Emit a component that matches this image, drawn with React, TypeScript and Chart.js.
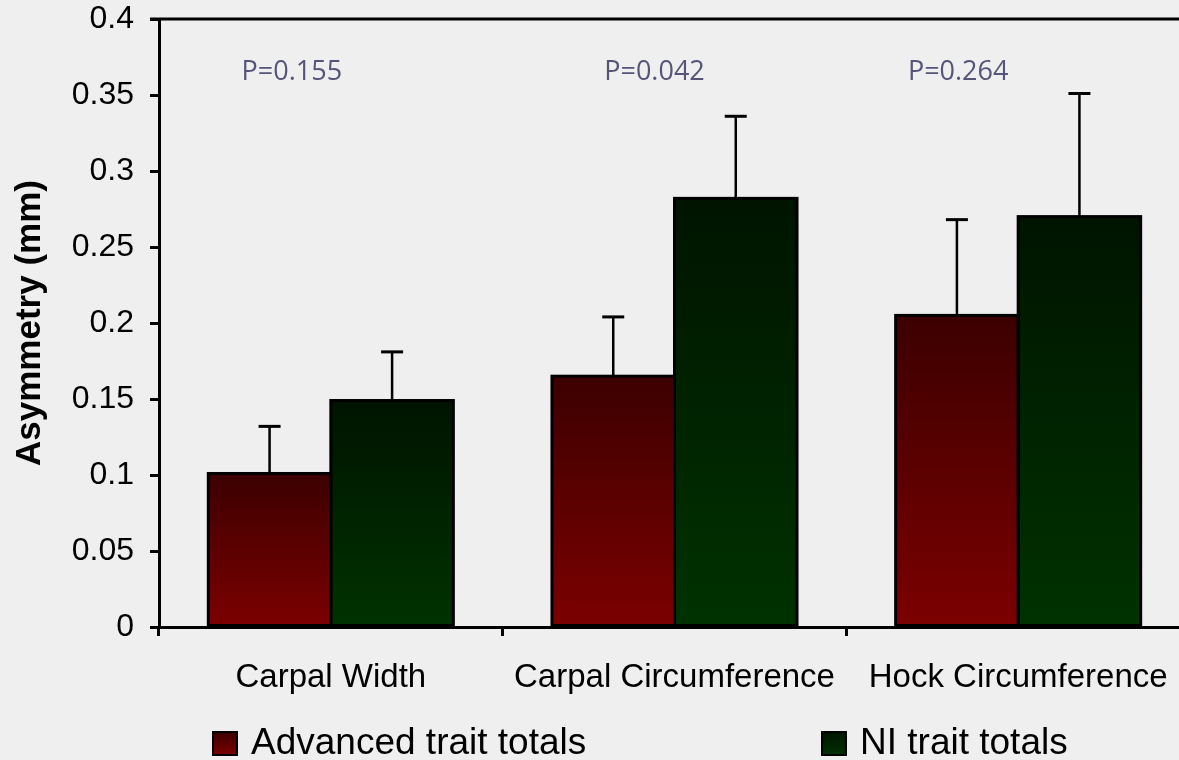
import React, { useEffect, useRef } from "react";
import { Chart, registerables } from "chart.js";

Chart.register(...registerables);

const categories = ["Carpal Width", "Carpal Circumference", "Hock Circumference"];
const seriesNames = ["Advanced trait totals", "NI trait totals"];
const advancedValues = [0.101, 0.165, 0.205];
const advancedErrors = [0.031, 0.039, 0.063];
const niValues = [0.149, 0.282, 0.27];
const niErrors = [0.032, 0.054, 0.081];
const pLabels = ["P=0.155", "P=0.042", "P=0.264"];
const yMin = 0;
const yMax = 0.4;
const yStep = 0.05;

const FONT = "'Liberation Sans', Arial, sans-serif";
const RED = ["#3c0000", "#7c0000"];
const GREEN = ["#001400", "#003200"];
const P_OFFSETS = [-39, -20, -60];

function barGradient(colors: string[]) {
  return (ctx: any) => {
    const chart = ctx.chart;
    if (!chart.chartArea || ctx.raw == null) return colors[1];
    const y = chart.scales.y;
    const top = y.getPixelForValue(ctx.raw);
    const bottom = y.getPixelForValue(0);
    const g = chart.ctx.createLinearGradient(0, top, 0, bottom);
    g.addColorStop(0, colors[0]);
    g.addColorStop(1, colors[1]);
    return g;
  };
}

const barOutlinePlugin = {
  id: "barOutline",
  afterDatasetsDraw(chart: any) {
    const ctx = chart.ctx;
    ctx.save();
    ctx.strokeStyle = "#000";
    ctx.lineWidth = 3;
    [0, 1].forEach((di) => {
      chart.getDatasetMeta(di).data.forEach((bar: any) => {
        const w = bar.width;
        ctx.strokeRect(bar.x - w / 2, bar.y, w, bar.base - bar.y);
      });
    });
    ctx.restore();
  },
};

const errorBarsPlugin = {
  id: "errorBars",
  afterDatasetsDraw(chart: any) {
    const ctx = chart.ctx;
    const y = chart.scales.y;
    const sets = [
      [advancedValues, advancedErrors],
      [niValues, niErrors],
    ];
    sets.forEach(([vals, errs], di) => {
      const meta = chart.getDatasetMeta(di);
      meta.data.forEach((bar: any, i: number) => {
        const top = y.getPixelForValue(vals[i] + errs[i]);
        ctx.save();
        ctx.strokeStyle = "#000";
        ctx.lineWidth = 2.5;
        ctx.beginPath();
        ctx.moveTo(bar.x, bar.y);
        ctx.lineTo(bar.x, top);
        ctx.stroke();
        ctx.lineWidth = 3;
        ctx.beginPath();
        ctx.moveTo(bar.x - 11, top);
        ctx.lineTo(bar.x + 11, top);
        ctx.stroke();
        ctx.restore();
      });
    });
  },
};

const decorPlugin = {
  id: "decor",
  afterDraw(chart: any) {
    const ctx = chart.ctx;
    const area = chart.chartArea;
    const x = chart.scales.x;
    ctx.save();
    ctx.strokeStyle = "#000";
    ctx.lineWidth = 3;
    ctx.beginPath();
    ctx.moveTo(area.left - 9, area.top);
    ctx.lineTo(area.right, area.top);
    ctx.stroke();
    ctx.fillStyle = "#55557a";
    ctx.font = "27px 'Open Sans', sans-serif";
    ctx.textAlign = "center";
    ctx.textBaseline = "middle";
    pLabels.forEach((t, i) => {
      ctx.fillText(t, x.getPixelForValue(i) + P_OFFSETS[i], area.top + 53);
    });
    const legendY = 743;
    const items = [
      { x: 213, name: seriesNames[0], colors: RED },
      { x: 822, name: seriesNames[1], colors: GREEN },
    ];
    items.forEach((it) => {
      const g = ctx.createLinearGradient(0, legendY - 11, 0, legendY + 12);
      g.addColorStop(0, it.colors[0]);
      g.addColorStop(1, it.colors[1]);
      ctx.fillStyle = g;
      ctx.fillRect(it.x, legendY - 11, 24, 23);
      ctx.strokeStyle = "#000";
      ctx.lineWidth = 2;
      ctx.strokeRect(it.x, legendY - 11, 24, 23);
      ctx.fillStyle = "#000";
      ctx.font = `37px ${FONT}`;
      ctx.textAlign = "left";
      ctx.textBaseline = "middle";
      ctx.fillText(it.name, it.x + 38, legendY + 1);
    });
    ctx.restore();
  },
};

export default function App() {
  const ref = useRef<HTMLCanvasElement>(null);
  useEffect(() => {
    if (!ref.current) return;
    const chart = new Chart(ref.current, {
      type: "bar",
      data: {
        labels: categories,
        datasets: [
          {
            label: seriesNames[0],
            data: advancedValues,
            backgroundColor: barGradient(RED),
            borderWidth: 0,
            categoryPercentage: 0.713,
            barPercentage: 1,
          },
          {
            label: seriesNames[1],
            data: niValues,
            backgroundColor: barGradient(GREEN),
            borderWidth: 0,
            categoryPercentage: 0.713,
            barPercentage: 1,
          },
        ],
      },
      options: {
        responsive: false,
        animation: false,
        devicePixelRatio: 1,
        layout: { padding: { top: 19, right: 20, left: 0, bottom: 0 } },
        plugins: { legend: { display: false }, tooltip: { enabled: false } },
        scales: {
          x: {
            offset: true,
            grid: {
              offset: true,
              drawOnChartArea: false,
              drawTicks: true,
              tickLength: 9,
              color: "#000",
              lineWidth: 3,
            },
            border: { display: true, color: "#000", width: 3 },
            ticks: {
              color: "#000",
              font: { family: FONT, size: 33 },
              padding: 22,
              maxRotation: 0,
              autoSkip: false,
            },
            afterFit: (s: any) => {
              s.height = 133;
              s.paddingLeft = 0;
              s.paddingRight = 0;
            },
          },
          y: {
            min: yMin,
            max: yMax,
            ticks: {
              stepSize: yStep,
              color: "#000",
              font: { family: FONT, size: 32 },
              padding: 16,
              callback: (v: any) => String(+Number(v).toFixed(2)),
            },
            grid: {
              drawOnChartArea: false,
              drawTicks: true,
              tickLength: 9,
              color: "#000",
              lineWidth: 3,
            },
            border: { display: true, color: "#000", width: 3 },
            title: {
              display: true,
              text: "Asymmetry (mm)",
              color: "#000",
              font: { family: FONT, size: 35, weight: "bold" },
              padding: { top: 9, bottom: 0 },
            },
            afterFit: (s: any) => {
              s.width = 159;
              s.paddingTop = 0;
              s.paddingBottom = 0;
            },
          },
        },
      },
      plugins: [barOutlinePlugin, errorBarsPlugin, decorPlugin],
    });
    return () => chart.destroy();
  }, []);

  return (
    <div
      style={{
        position: "fixed",
        left: 0,
        top: 0,
        width: 1179,
        height: 760,
        overflow: "hidden",
        background: "#efefef",
      }}
    >
      <canvas ref={ref} width={1210} height={760} style={{ display: "block" }} />
    </div>
  );
}
